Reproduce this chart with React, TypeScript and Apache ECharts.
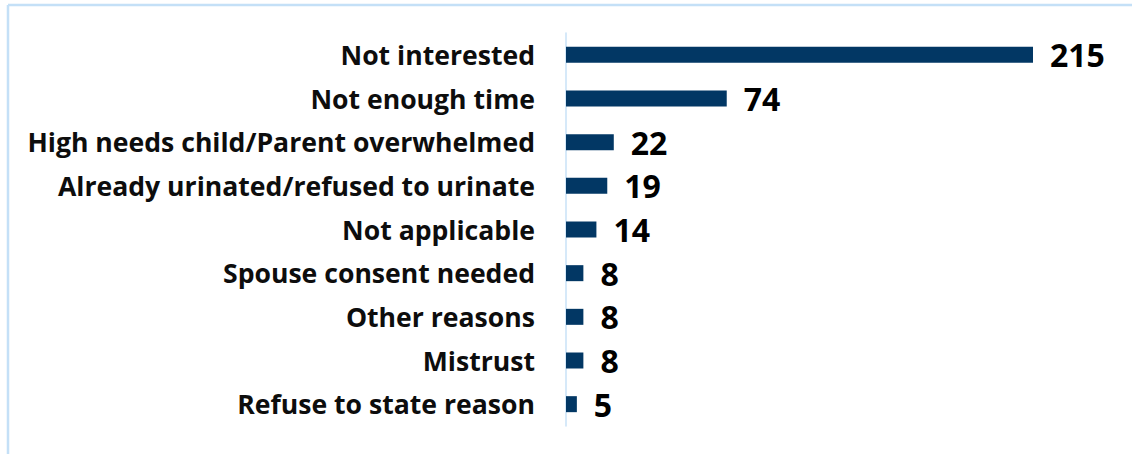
import React, { useEffect, useRef } from "react";
import * as echarts from "echarts";

const categories = [
  "Not interested",
  "Not enough time",
  "High needs child/Parent overwhelmed",
  "Already urinated/refused to urinate",
  "Not applicable",
  "Spouse consent needed",
  "Other reasons",
  "Mistrust",
  "Refuse to state reason",
];
const values = [215, 74, 22, 19, 14, 8, 8, 8, 5];

export default function App() {
  const ref = useRef<HTMLDivElement>(null);
  useEffect(() => {
    if (!ref.current) return;
    const chart = echarts.init(ref.current, undefined, { renderer: "svg" });
    chart.setOption({
      animation: false,
      grid: { left: 566, right: 99, top: 33, bottom: 28, containLabel: false },
      xAxis: {
        type: "value",
        min: 0,
        max: 215,
        show: false,
      },
      yAxis: {
        type: "category",
        inverse: true,
        data: categories,
        axisLine: { show: true, lineStyle: { color: "#c9e2f7", width: 1.5 } },
        axisTick: { show: false },
        axisLabel: {
          margin: 31,
          color: "#0d0d0d",
          fontFamily: "Open Sans",
          fontWeight: "bold",
          fontSize: 26.6,
        },
      },
      series: [
        {
          type: "bar",
          data: values,
          barWidth: 16,
          itemStyle: { color: "#023764" },
          label: {
            show: true,
            position: "right",
            distance: 17,
            color: "#000000",
            fontFamily: "Open Sans",
            fontWeight: "bold",
            fontSize: 32,
          },
        },
      ],
      graphic: [
        {
          type: "line",
          shape: { x1: 8, y1: 5, x2: 1132, y2: 5 },
          style: { stroke: "#c4e0f7", lineWidth: 2.5 },
        },
        {
          type: "line",
          shape: { x1: 8, y1: 5, x2: 8, y2: 454 },
          style: { stroke: "#c4e0f7", lineWidth: 2.5 },
        },
      ],
    });
    return () => chart.dispose();
  }, []);
  return (
    <div
      ref={ref}
      style={{ position: "absolute", left: 0, top: 0, width: 1132, height: 454, background: "#fff" }}
    />
  );
}
